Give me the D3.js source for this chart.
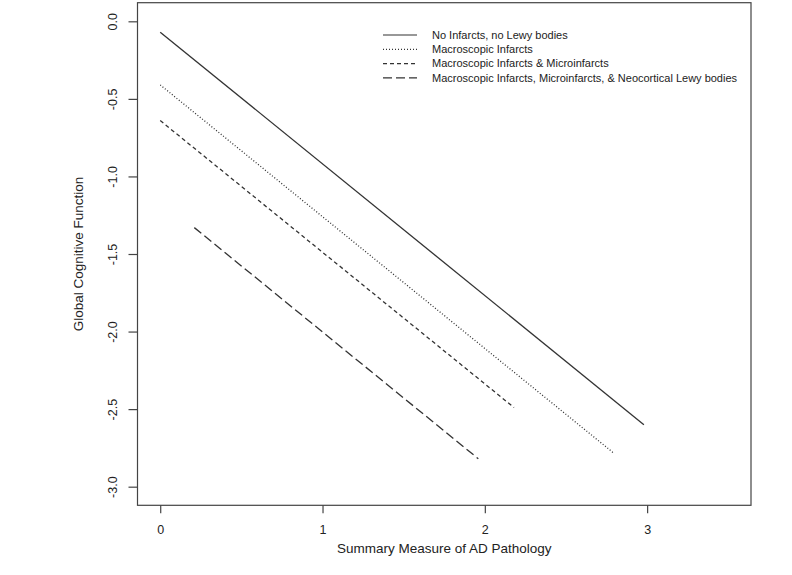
<!DOCTYPE html>
<meta charset="utf-8">
<style>
  body { margin: 0; background: #fff; }
  text { font-family: "Liberation Sans", Arial, sans-serif; fill: #222; }
</style>
<body>
<script src="https://d3js.org/d3.v7.min.js"></script>
<script>

// series: start and end points of each fitted line (x = AD pathology, y = cognition)
const groups = ["No Infarcts, no Lewy bodies",
                "Macroscopic Infarcts",
                "Macroscopic Infarcts & Microinfarcts",
                "Macroscopic Infarcts, Microinfarcts, & Neocortical Lewy bodies"];
const xStart = [0, 0, 0, 0.21];
const xEnd   = [2.98, 2.79, 2.18, 1.96];
const yStart = [-0.07, -0.41, -0.64, -1.33];
const yEnd   = [-2.60, -2.78, -2.49, -2.82];

const xTicks = [0, 1, 2, 3];
const yTicks = [0, -0.5, -1, -1.5, -2, -2.5, -3];

const width = 792, height = 575;
const box = {left: 137.5, right: 751, top: 2.7, bottom: 505.3};

const dashes = [null, "1,2", "4,3", "9,4"];

let x = d3.scaleLinear()
    .domain([-0.14, 3.64])
    .range([box.left, box.right]);

let y = d3.scaleLinear()
    .domain([0.12, -3.12])
    .range([box.top, box.bottom]);

let svg = d3.select("body").append("svg")
    .attr("width", width)
    .attr("height", height);

// plot box
svg.append("rect")
    .attr("x", box.left)
    .attr("y", box.top)
    .attr("width", box.right - box.left)
    .attr("height", box.bottom - box.top)
    .attr("fill", "none")
    .attr("stroke", "#444")
    .attr("stroke-width", 1.2);

// axes
let xAxis = svg.append("g")
    .attr("transform", `translate(0,${box.bottom})`)
    .call(d3.axisBottom(x).tickValues(xTicks).tickSize(8).tickPadding(12).tickFormat(d => d));

let yAxis = svg.append("g")
    .attr("transform", `translate(${box.left},0)`)
    .call(d3.axisLeft(y).tickValues(yTicks).tickSize(9).tickFormat(d => d.toFixed(1)));

[xAxis, yAxis].forEach(a => {
  a.select(".domain").remove();
  a.selectAll("line").attr("stroke", "#444").attr("stroke-width", 1.2);
  a.selectAll("text").style("font-size", "12.5px").attr("fill", "#222");
});

yAxis.selectAll("text")
    .attr("transform", "rotate(-90)")
    .attr("x", 0)
    .attr("y", -21)
    .attr("dy", 0)
    .style("text-anchor", "middle");

// axis titles
svg.append("text")
    .attr("x", (box.left + box.right) / 2)
    .attr("y", 553)
    .style("text-anchor", "middle")
    .style("font-size", "13.5px")
    .text("Summary Measure of AD Pathology");

svg.append("text")
    .attr("transform", `translate(83,${(box.top + box.bottom) / 2}) rotate(-90)`)
    .style("text-anchor", "middle")
    .style("font-size", "13.5px")
    .text("Global Cognitive Function");

// lines
svg.selectAll(".fit")
  .data(groups)
  .join("line")
    .attr("class", "fit")
    .attr("x1", (d, i) => x(xStart[i]))
    .attr("y1", (d, i) => y(yStart[i]))
    .attr("x2", (d, i) => x(xEnd[i]))
    .attr("y2", (d, i) => y(yEnd[i]))
    .attr("stroke", "#333")
    .attr("stroke-width", 1.3)
    .attr("stroke-dasharray", (d, i) => dashes[i]);

// legend
let legend = svg.selectAll(".legend")
  .data(groups)
  .join("g")
    .attr("class", "legend")
    .attr("transform", (d, i) => `translate(383,${35 + i * 14.3})`);

legend.append("line")
    .attr("x1", 0)
    .attr("x2", 34)
    .attr("stroke", "#333")
    .attr("stroke-width", 1.2)
    .attr("stroke-dasharray", (d, i) => dashes[i]);

legend.append("text")
    .attr("x", 49)
    .attr("dy", "0.35em")
    .style("font-size", "11px")
    .text(d => d);

</script>
